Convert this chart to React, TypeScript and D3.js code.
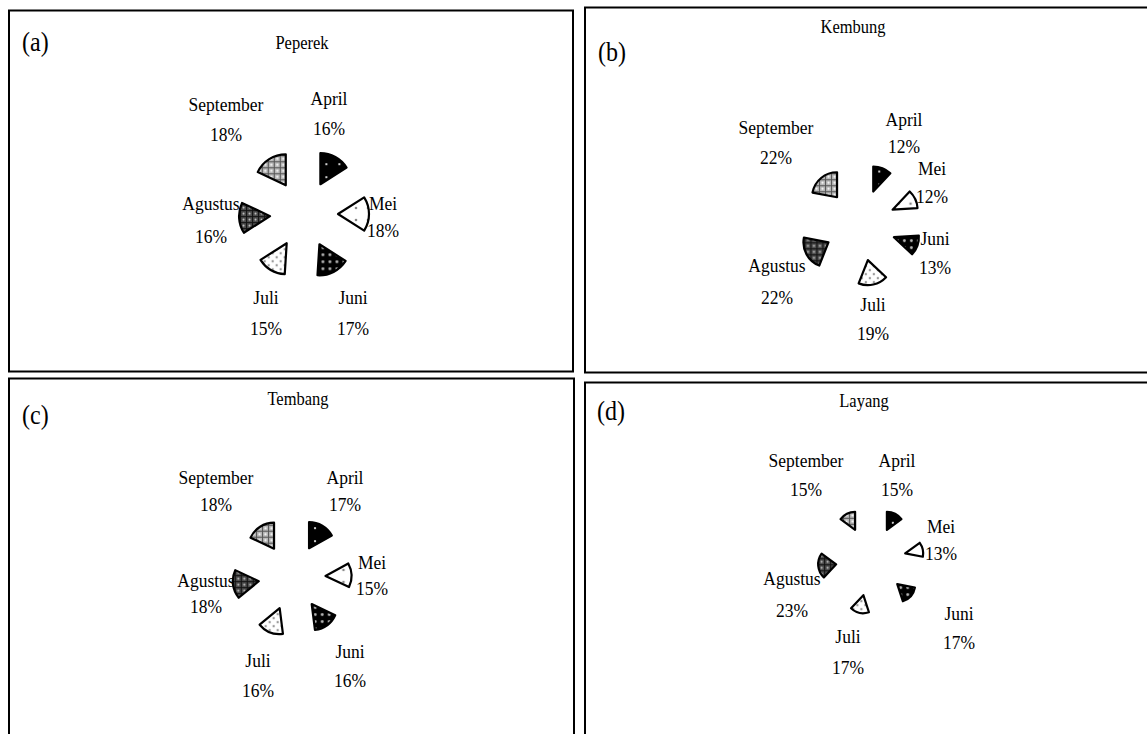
import React from "react";
import * as d3 from "d3";

// Monthly catch composition (%) per fish species, April–September
const MONTHS = ["April", "Mei", "Juni", "Juli", "Agustus", "September"];
const PEPEREK = [16, 18, 17, 15, 16, 18];
const KEMBUNG = [12, 12, 13, 19, 22, 22];
const TEMBANG = [17, 15, 16, 16, 18, 18];
const LAYANG = [15, 13, 17, 17, 23, 15];
const SPECIES = ["Peperek", "Kembung", "Tembang", "Layang"];
const TAGS = ["(a)", "(b)", "(c)", "(d)"];
const SERIES = [PEPEREK, KEMBUNG, TEMBANG, LAYANG];

const W = 1147;
const H = 734;
const FONT = "'Liberation Serif', 'Times New Roman', serif";
const TEXT_STRETCH = 1.13;

type Layout = {
  box: [number, number, number, number];
  cx: number;
  cy: number;
  explode: number;
  r: number;
  title: [number, number];
  tag: [number, number];
  // per month: [x, y of name line, y of percent line]
  labels: [number, number, number][];
};

const LAYOUTS: Layout[] = [
  {
    box: [9, 10.5, 564, 361],
    cx: 304, cy: 214, explode: 34, r: 31,
    title: [302, 42], tag: [22, 42],
    labels: [[329, 98, 128], [383, 203, 230], [353, 297, 328], [266, 297, 328], [211, 203, 236], [226, 104, 134]],
  },
  {
    box: [585, 7.5, 600, 365],
    cx: 860, cy: 225, explode: 36, r: 25,
    title: [853, 26], tag: [598, 52],
    labels: [[904, 119, 146], [932, 168, 196], [935, 238, 267], [873, 304, 333], [777, 265, 297], [776, 127, 157]],
  },
  {
    box: [9, 378.5, 565, 400],
    cx: 292, cy: 577, explode: 33.5, r: 26,
    title: [298, 398], tag: [22, 415],
    labels: [[345, 477, 504], [372, 562, 588], [350, 651, 680], [258, 660, 690], [206, 580, 606], [216, 477, 504]],
  },
  {
    box: [585, 382.5, 600, 400],
    cx: 871, cy: 561, explode: 35, r: 18,
    title: [864, 400], tag: [597, 411],
    labels: [[897, 460, 489], [941, 526, 553], [959, 613, 642], [848, 636, 667], [792, 578, 610], [806, 460, 489]],
  },
];

const PATTERN_IDS = ["pApr", "pMei", "pJun", "pJul", "pAgu", "pSep"];

function Patterns() {
  return (
    <defs>
      <pattern id="pApr" width="13" height="13" patternUnits="userSpaceOnUse">
        <rect width="13" height="13" fill="#000" />
        <circle cx="6" cy="6" r="1.1" fill="#fff" />
      </pattern>
      <pattern id="pMei" width="12" height="12" patternUnits="userSpaceOnUse">
        <rect width="12" height="12" fill="#fff" />
        <circle cx="6" cy="6" r="1.3" fill="#888" />
      </pattern>
      <pattern id="pJun" width="7" height="7" patternUnits="userSpaceOnUse">
        <rect width="7" height="7" fill="#000" />
        <circle cx="3.5" cy="3.5" r="1.4" fill="#bbb" />
      </pattern>
      <pattern id="pJul" width="8" height="8" patternUnits="userSpaceOnUse">
        <rect width="8" height="8" fill="#fff" />
        <circle cx="2" cy="2" r="1.2" fill="#999" />
        <circle cx="6" cy="6" r="1.2" fill="#999" />
      </pattern>
      <pattern id="pAgu" width="6" height="6" patternUnits="userSpaceOnUse">
        <rect width="6" height="6" fill="#4a4a4a" />
        <path d="M0 0.5 H6 M0.5 0 V6" stroke="#111" strokeWidth="1" />
        <circle cx="3.5" cy="3.5" r="1" fill="#ccc" />
      </pattern>
      <pattern id="pSep" width="6" height="6" patternUnits="userSpaceOnUse">
        <rect width="6" height="6" fill="#b5b5b5" />
        <path d="M0 0.5 H6 M0.5 0 V6" stroke="#555" strokeWidth="1" />
        <circle cx="3.5" cy="3.5" r="1.1" fill="#fff" />
      </pattern>
    </defs>
  );
}

function Label({ x, y, size, anchor = "middle", children }: { x: number; y: number; size: number; anchor?: string; children: React.ReactNode }) {
  return (
    <text
      transform={`translate(${x},${y}) scale(1,${TEXT_STRETCH})`}
      dy="0.35em"
      textAnchor={anchor}
      fontSize={size}
      fontFamily={FONT}
      fill="#000"
    >
      {children}
    </text>
  );
}

function PiePanel({ idx }: { idx: number }) {
  const L = LAYOUTS[idx];
  const values = SERIES[idx];
  const pie = d3.pie<number>().sort(null).value((d) => d)(values);
  const arc = d3.arc<d3.PieArcDatum<number>>().innerRadius(0).outerRadius(L.r);
  const [bx, by, bw, bh] = L.box;

  return (
    <g>
      <rect x={bx} y={by} width={bw} height={bh} fill="#fff" stroke="#000" strokeWidth={2} />
      <Label x={L.tag[0]} y={L.tag[1]} size={24} anchor="start">{TAGS[idx]}</Label>
      <Label x={L.title[0]} y={L.title[1]} size={16.5}>{SPECIES[idx]}</Label>
      {pie.map((p, i) => {
        const mid = (p.startAngle + p.endAngle) / 2;
        const tx = L.cx + L.explode * Math.sin(mid);
        const ty = L.cy - L.explode * Math.cos(mid);
        return (
          <path
            key={MONTHS[i]}
            d={arc(p) || ""}
            transform={`translate(${tx},${ty})`}
            fill={`url(#${PATTERN_IDS[i]})`}
            stroke="#000"
            strokeWidth={2.2}
            strokeLinejoin="round"
          />
        );
      })}
      {MONTHS.map((m, i) => {
        const [lx, ly1, ly2] = L.labels[i];
        return (
          <g key={m}>
            <Label x={lx} y={ly1} size={17.5}>{m}</Label>
            <Label x={lx} y={ly2} size={17.5}>{`${values[i]}%`}</Label>
          </g>
        );
      })}
    </g>
  );
}

export default function App() {
  return (
    <svg
      width={W}
      height={H}
      viewBox={`0 0 ${W} ${H}`}
      style={{ position: "absolute", left: 0, top: 0, background: "#fff" }}
    >
      <Patterns />
      <rect width={W} height={H} fill="#fff" />
      {LAYOUTS.map((_, i) => (
        <PiePanel key={i} idx={i} />
      ))}
    </svg>
  );
}
